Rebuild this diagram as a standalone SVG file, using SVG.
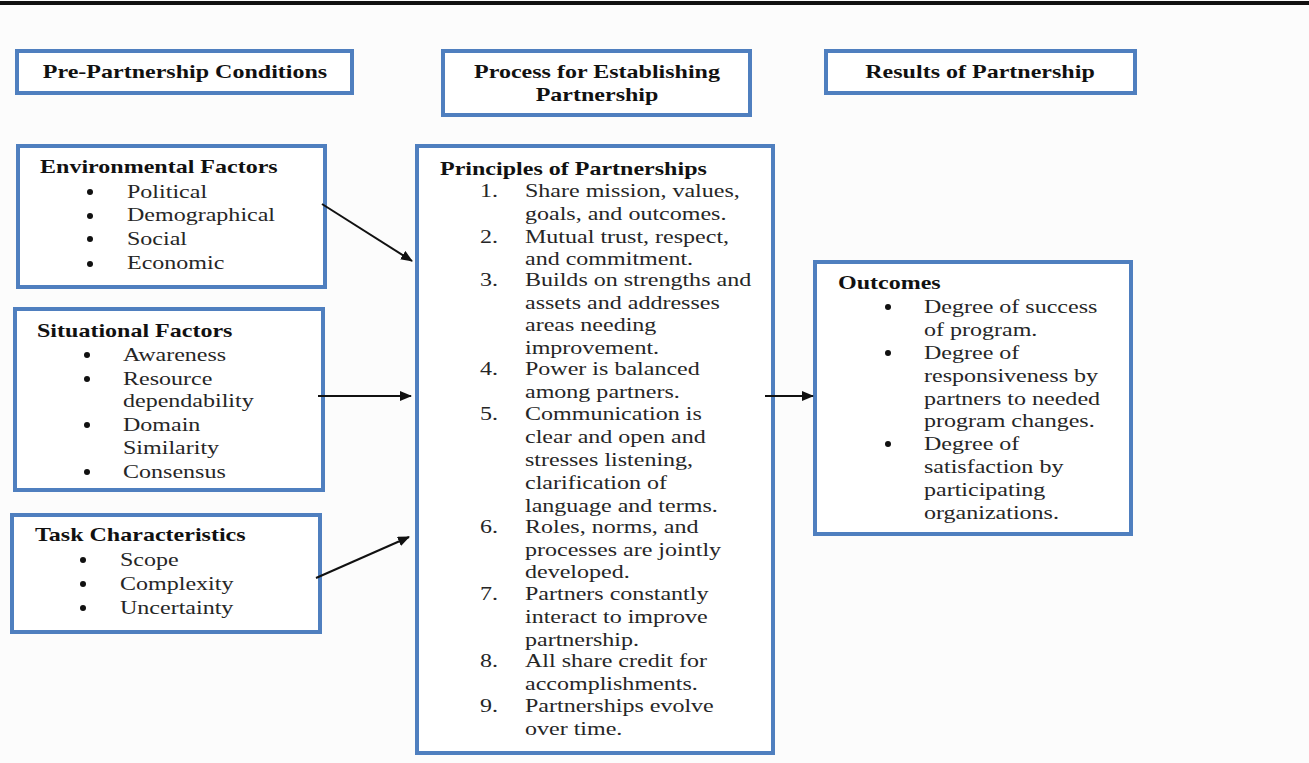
<svg xmlns="http://www.w3.org/2000/svg" width="1309" height="763" viewBox="0 0 1309 763">
<defs>
<style>
.box{fill:#fff;stroke:#4F7FBF;stroke-width:4}
.t{font-family:"Liberation Serif","Times New Roman",serif;font-size:18px;fill:#262626}
.b{font-family:"Liberation Serif","Times New Roman",serif;font-size:18px;font-weight:bold;fill:#111}
.m{text-anchor:middle}
.e{text-anchor:end}
.dot{fill:#111}
.conn{stroke:#111;stroke-width:2;fill:none;marker-end:url(#ah)}
</style>
<marker id="ah" markerWidth="12" markerHeight="10" refX="11" refY="5" orient="auto" markerUnits="userSpaceOnUse">
<path d="M0,0 L12,5 L0,10 Z" fill="#111"/>
</marker>
</defs>
<rect width="1309" height="763" fill="#fcfcfc"/>
<rect x="0" y="1" width="1309" height="4" fill="#111"/>

<g id="hdr-pre">
<rect class="box" x="17" y="51" width="335" height="42"/>
<text class="b m" transform="translate(185,78) scale(1.335,1)">Pre-Partnership Conditions</text>
</g>
<g id="hdr-process">
<rect class="box" x="443" y="51" width="307" height="64"/>
<text class="b m" transform="translate(597,78) scale(1.335,1)">Process for Establishing</text>
<text class="b m" transform="translate(597,101) scale(1.335,1)">Partnership</text>
</g>
<g id="hdr-results">
<rect class="box" x="826" y="51" width="309" height="42"/>
<text class="b m" transform="translate(980,78) scale(1.335,1)">Results of Partnership</text>
</g>

<g id="env">
<rect class="box" x="18" y="146" width="307" height="141"/>
<text class="b" transform="translate(40,173) scale(1.335,1)">Environmental Factors</text>
<circle class="dot" cx="90" cy="192" r="3"/><text class="t" transform="translate(127,198) scale(1.335,1)">Political</text>
<circle class="dot" cx="90" cy="216" r="3"/><text class="t" transform="translate(127,221) scale(1.335,1)">Demographical</text>
<circle class="dot" cx="90" cy="239" r="3"/><text class="t" transform="translate(127,245) scale(1.335,1)">Social</text>
<circle class="dot" cx="90" cy="264" r="3"/><text class="t" transform="translate(127,269) scale(1.335,1)">Economic</text>
</g>

<g id="sit">
<rect class="box" x="15" y="309" width="308" height="181"/>
<text class="b" transform="translate(37,337) scale(1.335,1)">Situational Factors</text>
<circle class="dot" cx="87" cy="355" r="3"/><text class="t" transform="translate(123,361) scale(1.335,1)">Awareness</text>
<circle class="dot" cx="87" cy="379" r="3"/><text class="t" transform="translate(123,385) scale(1.335,1)">Resource</text>
<text class="t" transform="translate(123,407) scale(1.335,1)">dependability</text>
<circle class="dot" cx="87" cy="425" r="3"/><text class="t" transform="translate(123,431) scale(1.335,1)">Domain</text>
<text class="t" transform="translate(123,454) scale(1.335,1)">Similarity</text>
<circle class="dot" cx="87" cy="472" r="3"/><text class="t" transform="translate(123,478) scale(1.335,1)">Consensus</text>
</g>

<g id="task">
<rect class="box" x="12" y="515" width="308" height="117"/>
<text class="b" transform="translate(35,541) scale(1.335,1)">Task Characteristics</text>
<circle class="dot" cx="83" cy="560" r="3"/><text class="t" transform="translate(120,566) scale(1.335,1)">Scope</text>
<circle class="dot" cx="83" cy="584" r="3"/><text class="t" transform="translate(120,590) scale(1.335,1)">Complexity</text>
<circle class="dot" cx="83" cy="608" r="3"/><text class="t" transform="translate(120,614) scale(1.335,1)">Uncertainty</text>
</g>

<g id="principles">
<rect class="box" x="417" y="146" width="356" height="607"/>
<text class="b" transform="translate(440,175) scale(1.335,1)">Principles of Partnerships</text>
<text class="t e" transform="translate(498,197) scale(1.335,1)">1.</text><text class="t" transform="translate(525,197) scale(1.335,1)">Share mission, values,</text>
<text class="t" transform="translate(525,220) scale(1.335,1)">goals, and outcomes.</text>
<text class="t e" transform="translate(498,243) scale(1.335,1)">2.</text><text class="t" transform="translate(525,243) scale(1.335,1)">Mutual trust, respect,</text>
<text class="t" transform="translate(525,265) scale(1.335,1)">and commitment.</text>
<text class="t e" transform="translate(498,286) scale(1.335,1)">3.</text><text class="t" transform="translate(525,286) scale(1.335,1)">Builds on strengths and</text>
<text class="t" transform="translate(525,309) scale(1.335,1)">assets and addresses</text>
<text class="t" transform="translate(525,331) scale(1.335,1)">areas needing</text>
<text class="t" transform="translate(525,354) scale(1.335,1)">improvement.</text>
<text class="t e" transform="translate(498,375) scale(1.335,1)">4.</text><text class="t" transform="translate(525,375) scale(1.335,1)">Power is balanced</text>
<text class="t" transform="translate(525,398) scale(1.335,1)">among partners.</text>
<text class="t e" transform="translate(498,420) scale(1.335,1)">5.</text><text class="t" transform="translate(525,420) scale(1.335,1)">Communication is</text>
<text class="t" transform="translate(525,443) scale(1.335,1)">clear and open and</text>
<text class="t" transform="translate(525,466) scale(1.335,1)">stresses listening,</text>
<text class="t" transform="translate(525,489) scale(1.335,1)">clarification of</text>
<text class="t" transform="translate(525,512) scale(1.335,1)">language and terms.</text>
<text class="t e" transform="translate(498,533) scale(1.335,1)">6.</text><text class="t" transform="translate(525,533) scale(1.335,1)">Roles, norms, and</text>
<text class="t" transform="translate(525,556) scale(1.335,1)">processes are jointly</text>
<text class="t" transform="translate(525,578) scale(1.335,1)">developed.</text>
<text class="t e" transform="translate(498,600) scale(1.335,1)">7.</text><text class="t" transform="translate(525,600) scale(1.335,1)">Partners constantly</text>
<text class="t" transform="translate(525,623) scale(1.335,1)">interact to improve</text>
<text class="t" transform="translate(525,646) scale(1.335,1)">partnership.</text>
<text class="t e" transform="translate(498,667) scale(1.335,1)">8.</text><text class="t" transform="translate(525,667) scale(1.335,1)">All share credit for</text>
<text class="t" transform="translate(525,690) scale(1.335,1)">accomplishments.</text>
<text class="t e" transform="translate(498,712) scale(1.335,1)">9.</text><text class="t" transform="translate(525,712) scale(1.335,1)">Partnerships evolve</text>
<text class="t" transform="translate(525,735) scale(1.335,1)">over time.</text>
</g>

<g id="outcomes">
<rect class="box" x="815" y="262" width="316" height="272"/>
<text class="b" transform="translate(838,289) scale(1.335,1)">Outcomes</text>
<circle class="dot" cx="888" cy="307" r="3"/><text class="t" transform="translate(924,313) scale(1.335,1)">Degree of success</text>
<text class="t" transform="translate(924,336) scale(1.335,1)">of program.</text>
<circle class="dot" cx="888" cy="353" r="3"/><text class="t" transform="translate(924,359) scale(1.335,1)">Degree of</text>
<text class="t" transform="translate(924,382) scale(1.335,1)">responsiveness by</text>
<text class="t" transform="translate(924,405) scale(1.335,1)">partners to needed</text>
<text class="t" transform="translate(924,427) scale(1.335,1)">program changes.</text>
<circle class="dot" cx="888" cy="444" r="3"/><text class="t" transform="translate(924,450) scale(1.335,1)">Degree of</text>
<text class="t" transform="translate(924,473) scale(1.335,1)">satisfaction by</text>
<text class="t" transform="translate(924,496) scale(1.335,1)">participating</text>
<text class="t" transform="translate(924,519) scale(1.335,1)">organizations.</text>
</g>

<g id="connectors">
<line class="conn" x1="322" y1="204" x2="412" y2="261"/>
<line class="conn" x1="318" y1="396" x2="411" y2="396"/>
<line class="conn" x1="316" y1="578" x2="409" y2="537"/>
<line class="conn" x1="765" y1="396" x2="813" y2="396"/>
</g>
</svg>
